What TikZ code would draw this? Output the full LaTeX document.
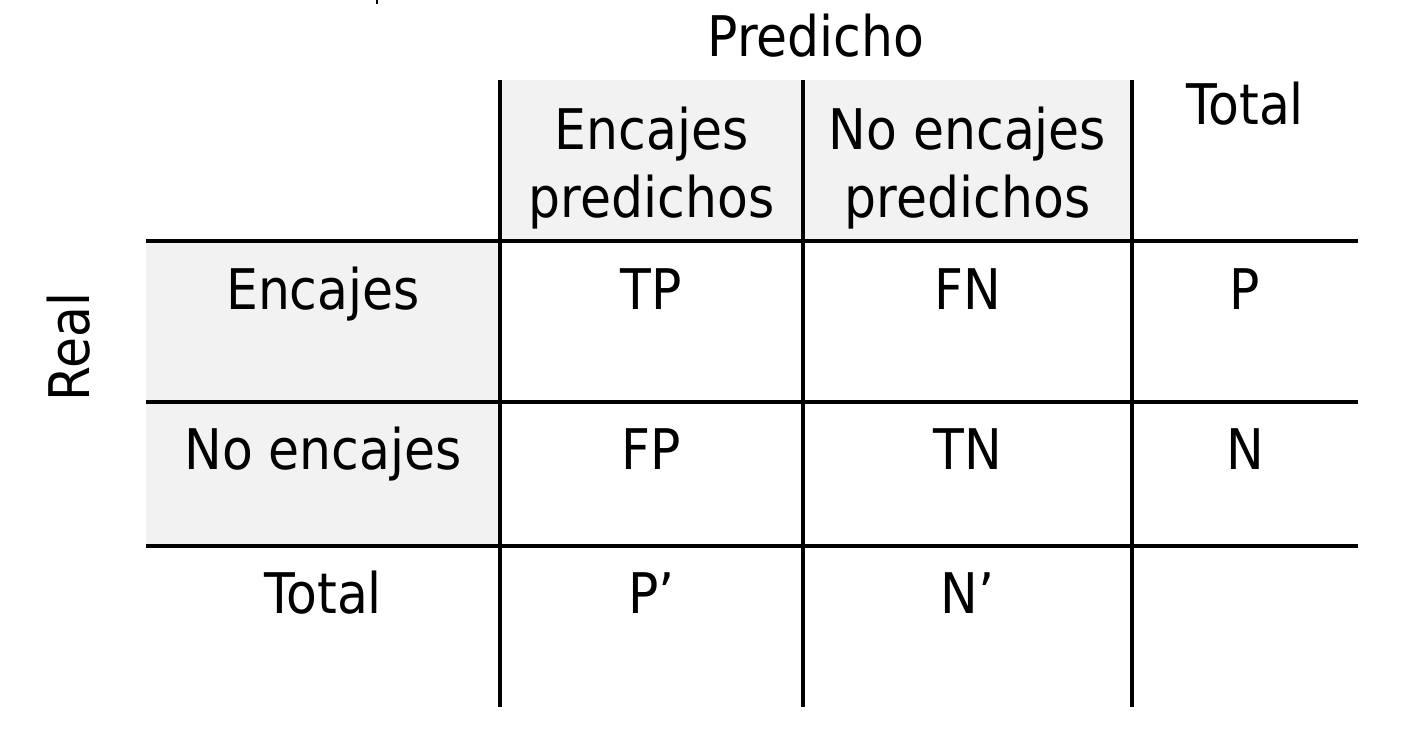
\documentclass[tikz,border=0pt]{standalone}
\usepackage{fontspec}
\setmainfont{DejaVu Sans}[FakeStretch=0.9]
\definecolor{cellgray}{HTML}{F2F2F2}
\begin{document}
\begin{tikzpicture}[x=1pt,y=-1pt,
  gridline/.style={line width=4pt,black},
  cell/.style={anchor=base,inner sep=0pt,font=\fontsize{56}{67}\selectfont}]
\useasboundingbox (0,0) rectangle (1406,738);
% shaded header cells
\fill[cellgray] (500,80) rectangle (1132,241);
\fill[cellgray] (146,241) rectangle (500,546);
% small tick at the top
\draw[line width=2pt] (377,0) -- (377,4);
% grid
\foreach \x in {500,803,1132} \draw[gridline] (\x,80) -- (\x,707);
\foreach \y in {241,402,546} \draw[gridline] (146,\y) -- (1358,\y);
% labels
\node[cell] (pred) at (816,57) {Predicho};
\node[cell] (real) at (89,347) [rotate=90] {Real};
\node[cell] (totH) at (1245,125) {Total};
\node[cell] (ep1) at (651.5,150) {Encajes};
\node[cell] (ep2) at (651.5,218) {predichos};
\node[cell] (nep1) at (967.5,150) {No encajes};
\node[cell] (nep2) at (967.5,218) {predichos};
\node[cell] (enc) at (323,309) {Encajes};
\node[cell] (tp) at (651.5,309) {TP};
\node[cell] (fn) at (967.5,309) {FN};
\node[cell] (p) at (1245,309) {P};
\node[cell] (nenc) at (323,469) {No encajes};
\node[cell] (fp) at (651.5,469) {FP};
\node[cell] (tn) at (967.5,469) {TN};
\node[cell] (n) at (1245,469) {N};
\node[cell] (totR) at (323,613) {Total};
\node[cell] (pp) at (651.5,613) {P’};
\node[cell] (np) at (967.5,613) {N’};
\end{tikzpicture}
\end{document}
